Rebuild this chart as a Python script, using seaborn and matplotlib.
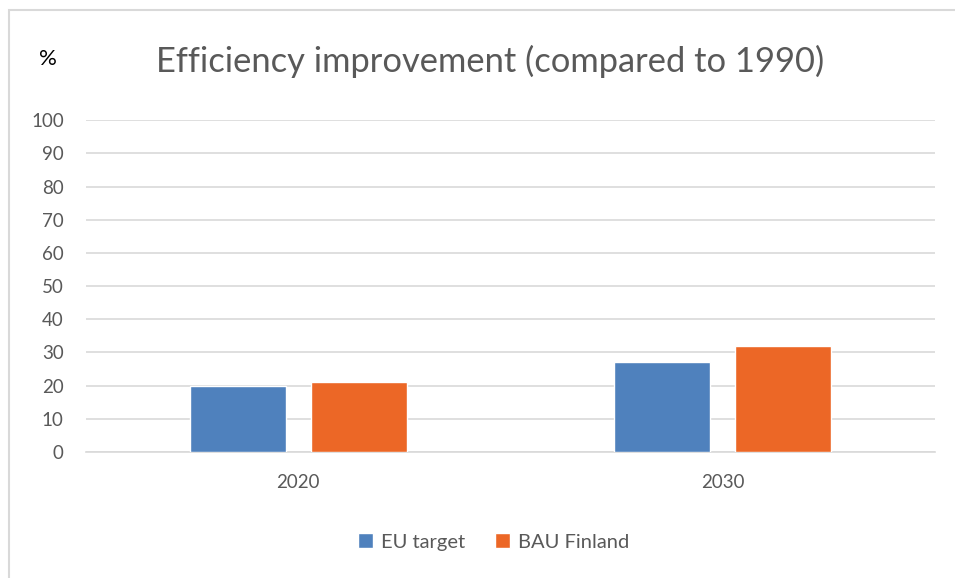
import pandas as pd
import matplotlib
matplotlib.use('Agg')
import matplotlib.pyplot as plt
import seaborn as sns
from matplotlib.patches import Rectangle

years = ['2020', '2030']
eu_target = [20, 27]
bau_finland = [21, 32]
series_names = ['EU target', 'BAU Finland']
colors = ['#4F81BD', '#EC6726']

df = pd.DataFrame({
    'Year': years * 2,
    'Value': eu_target + bau_finland,
    'Series': [series_names[0]] * len(years) + [series_names[1]] * len(years),
})

sns.set_style('white')
plt.rcParams['font.family'] = ['Lato', 'DejaVu Sans']
text_col = '#595959'
grid_col = '#D9D9D9'

fig = plt.figure(figsize=(9.55, 5.78), dpi=100)
ax = fig.add_axes([0.090, 0.218, 0.889, 0.574])

sns.barplot(data=df, x='Year', y='Value', hue='Series', palette=colors,
            width=0.57, gap=0.207, ax=ax, zorder=3, saturation=1)

ax.set_ylim(0, 100)
ax.set_yticks(range(0, 101, 10))
ax.yaxis.grid(True, color=grid_col, linewidth=1.2, zorder=0)
ax.set_axisbelow(True)
for s in ['top', 'right', 'left']:
    ax.spines[s].set_visible(False)
ax.spines['bottom'].set_color(grid_col)
ax.spines['bottom'].set_linewidth(1.2)
ax.tick_params(axis='both', length=0, labelsize=13.5, colors=text_col)
ax.tick_params(axis='y', pad=16)
ax.tick_params(axis='x', pad=16)
ax.set_xlabel('')
ax.set_ylabel('')

fig.text(0.513, 0.893, 'Efficiency improvement (compared to 1990)',
         ha='center', va='center', fontsize=24.8, color=text_col)
fig.text(0.050, 0.898, '%', ha='center', va='center', fontsize=16, color='black')

ax.legend(loc='center', bbox_to_anchor=(0.517, 0.062), bbox_transform=fig.transFigure,
          ncol=2, frameon=False, fontsize=14.5, labelcolor=text_col,
          handlelength=0.75, handleheight=0.75, handletextpad=0.4, columnspacing=1.5)

fig.patches.append(Rectangle((9 / 955, -0.1), 1.2, 1.1 - 10 / 578,
                             transform=fig.transFigure, fill=False,
                             edgecolor=grid_col, linewidth=1.5))

fig.savefig('out.png', dpi=100)
